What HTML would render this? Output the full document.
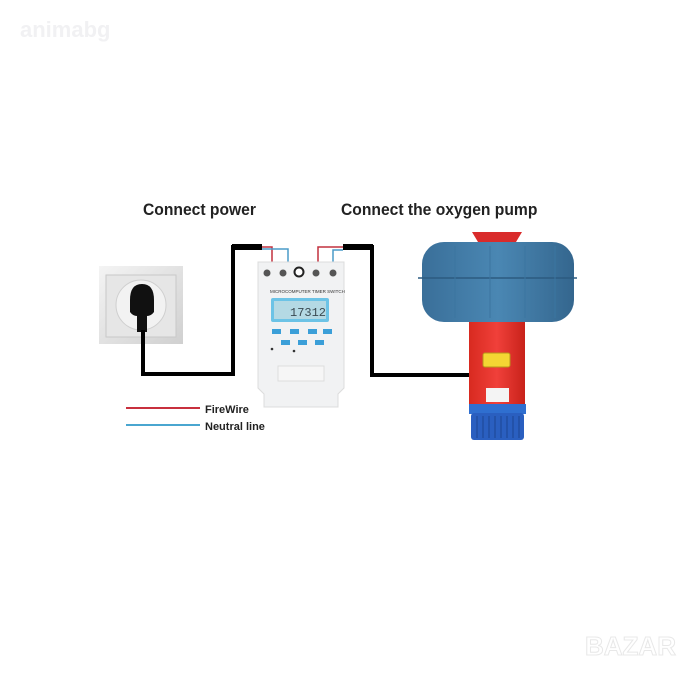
<!DOCTYPE html>
<html><head><style>
body{margin:0;background:#fff;}
.wrap{position:relative;width:694px;height:676px;overflow:hidden;background:#fff;font-family:"Liberation Sans",sans-serif;}
.t{position:absolute;font-weight:bold;font-family:"Liberation Sans Narrow","Liberation Sans",sans-serif;color:#222;}
</style></head><body><div class="wrap">
<div class="t" style="left:20px;top:17px;font-size:22px;color:#f1f1f3;font-weight:bold;">animabg</div>
<div class="t" style="left:143px;top:200px;font-size:17px;transform:scaleX(0.92);transform-origin:left;">Connect power</div>
<div class="t" style="left:341px;top:200px;font-size:17px;transform:scaleX(0.92);transform-origin:left;">Connect the oxygen pump</div>
<svg width="694" height="676" style="position:absolute;left:0;top:0">
<defs>
<linearGradient id="plate" x1="0" y1="0" x2="1" y2="1"><stop offset="0" stop-color="#f4f4f4"/><stop offset="1" stop-color="#d0d0d0"/></linearGradient>
<linearGradient id="blue" x1="0" y1="0" x2="1" y2="0"><stop offset="0" stop-color="#3a6f99"/><stop offset="0.5" stop-color="#4a87b3"/><stop offset="1" stop-color="#34668e"/></linearGradient>
<linearGradient id="red" x1="0" y1="0" x2="1" y2="0"><stop offset="0" stop-color="#d82a20"/><stop offset="0.5" stop-color="#f0403a"/><stop offset="1" stop-color="#c8221a"/></linearGradient>
</defs>
<rect x="99" y="266" width="84" height="78" fill="url(#plate)"/>
<rect x="106" y="275" width="70" height="62" fill="#e6e6e6" stroke="#c8c8c8"/>
<circle cx="141" cy="305" r="25" fill="#f2f2f2" stroke="#cfcfcf"/>
<path d="M130 300 q0-16 12-16 q12 0 12 16 l0 12 q-3 4-7 4 l0 16 l-10 0 l0-16 q-4 0-7-4z" fill="#111"/>
<polyline points="143,330 143,374 233,374 233,247 262,247" fill="none" stroke="#000" stroke-width="4"/>
<rect x="232" y="244" width="30" height="6" fill="#000"/>
<polyline points="262,247 272,247 272,263" fill="none" stroke="#c2303f" stroke-width="1.5"/>
<polyline points="262,249 288,249 288,263" fill="none" stroke="#4a9bc8" stroke-width="1.5"/>
<polyline points="343,247 372,247 372,375 470,375" fill="none" stroke="#000" stroke-width="4"/>
<rect x="343" y="244" width="30" height="6" fill="#000"/>
<polyline points="343,247 318,247 318,263" fill="none" stroke="#c2303f" stroke-width="1.5"/>
<polyline points="343,250 333,250 333,263" fill="none" stroke="#4a9bc8" stroke-width="1.5"/>
<path d="M258 262 h86 v126 l-6 6 v13 h-74 v-13 l-6-6z" fill="#f1f2f3" stroke="#dcdcdc"/>
<g fill="#555"><circle cx="267" cy="273" r="3.5"/><circle cx="283" cy="273" r="3.5"/><circle cx="316" cy="273" r="3.5"/><circle cx="333" cy="273" r="3.5"/></g>
<circle cx="299" cy="272" r="4.5" fill="#fff" stroke="#222" stroke-width="2"/>
<text x="270" y="293" font-size="4.5" fill="#333">MICROCOMPUTER TIMER SWITCH</text>
<rect x="271" y="298" width="58" height="24" rx="2" fill="#6cc3e6"/>
<rect x="274" y="301" width="52" height="18" fill="#b4d9e4"/>
<text x="290" y="316" font-size="12" fill="#3a4a52" font-family="Liberation Mono">17312</text>
<g fill="#3b9fd8"><rect x="272" y="329" width="9" height="5"/><rect x="290" y="329" width="9" height="5"/><rect x="308" y="329" width="9" height="5"/><rect x="323" y="329" width="9" height="5"/><rect x="281" y="340" width="9" height="5"/><rect x="298" y="340" width="9" height="5"/><rect x="315" y="340" width="9" height="5"/></g>
<circle cx="272" cy="349" r="1.3" fill="#333"/><circle cx="294" cy="351" r="1.3" fill="#333"/>
<rect x="278" y="366" width="46" height="15" fill="#f6f6f6" stroke="#ddd"/>
<path d="M472 232 h50 l-6 10 h-38z" fill="#d92b2b"/>
<rect x="469" y="318" width="56" height="88" fill="url(#red)"/>
<rect x="422" y="242" width="152" height="80" rx="22" fill="url(#blue)"/>
<line x1="418" y1="278" x2="577" y2="278" stroke="#2c5b80" stroke-width="1.5"/>
<g stroke="#3b75a0" stroke-width="1"><line x1="455" y1="246" x2="455" y2="318"/><line x1="490" y1="246" x2="490" y2="318"/><line x1="525" y1="246" x2="525" y2="318"/><line x1="555" y1="246" x2="555" y2="318"/></g>
<rect x="483" y="353" width="27" height="14" rx="2" fill="#f4d633" stroke="#b8951a"/>
<rect x="486" y="388" width="23" height="14" fill="#f4f4f4"/>
<rect x="469" y="404" width="57" height="10" fill="#2f6fd0"/>
<rect x="471" y="413" width="53" height="27" rx="3" fill="#2a5fc0"/>
<g stroke="#1c4492" stroke-width="1"><line x1="477" y1="416" x2="477" y2="438"/><line x1="483" y1="416" x2="483" y2="438"/><line x1="489" y1="416" x2="489" y2="438"/><line x1="495" y1="416" x2="495" y2="438"/><line x1="501" y1="416" x2="501" y2="438"/><line x1="507" y1="416" x2="507" y2="438"/><line x1="513" y1="416" x2="513" y2="438"/><line x1="519" y1="416" x2="519" y2="438"/></g>
<line x1="126" y1="408" x2="200" y2="408" stroke="#c8303e" stroke-width="2"/>
<line x1="126" y1="425" x2="200" y2="425" stroke="#4aa6d0" stroke-width="2"/>
<text x="205" y="413" font-size="11" font-weight="bold" fill="#222" font-family="Liberation Sans">FireWire</text>
<text x="205" y="430" font-size="11" font-weight="bold" fill="#222" font-family="Liberation Sans">Neutral line</text>
<text x="585" y="655" font-size="26" font-weight="bold" fill="#fff" stroke="#e8e8e8" stroke-width="1" font-family="Liberation Sans">BAZAR</text>
</svg>
</div></body></html>
